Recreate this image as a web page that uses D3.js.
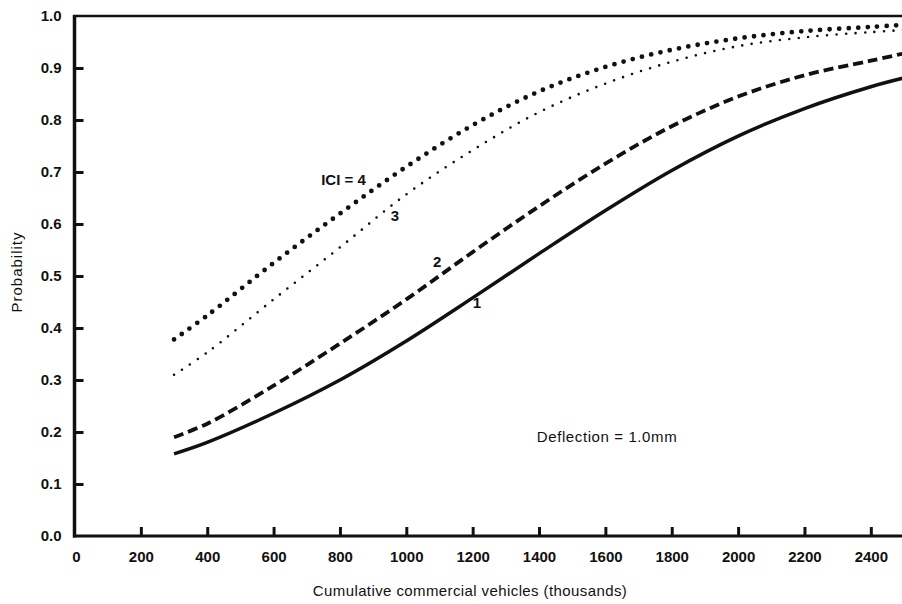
<!DOCTYPE html>
<html lang="en">
<head>
    <meta charset="UTF-8">
    <title>Probability vs cumulative commercial vehicles</title>
    <script src="https://d3js.org/d3.v7.min.js"></script>
    <style>
        body { margin: 0; background: #fff; font-family: "Liberation Sans", Arial, sans-serif; }
        .tick text { font-family: "Liberation Sans", Arial, sans-serif; font-weight: bold; font-size: 15px; fill: #111; }
        .lbl { font-family: "Liberation Sans", Arial, sans-serif; fill: #111; }
    </style>
</head>
<body>
    <svg width="902" height="604"></svg>
    <script>
        // values
        const vehicles = [300, 400, 600, 800, 1000, 1200, 1400, 1600, 1800, 2000, 2200, 2400, 2500];
        const ici1 = [0.158, 0.180, 0.236, 0.300, 0.375, 0.458, 0.543, 0.626, 0.703, 0.769, 0.822, 0.864, 0.881];
        const ici2 = [0.190, 0.216, 0.289, 0.370, 0.455, 0.546, 0.634, 0.716, 0.788, 0.845, 0.886, 0.914, 0.928];
        const ici3 = [0.310, 0.353, 0.455, 0.555, 0.657, 0.742, 0.815, 0.870, 0.912, 0.942, 0.959, 0.969, 0.973];
        const ici4 = [0.378, 0.424, 0.525, 0.620, 0.710, 0.790, 0.855, 0.902, 0.935, 0.957, 0.971, 0.979, 0.983];
        const xTicks = [200, 400, 600, 800, 1000, 1200, 1400, 1600, 1800, 2000, 2200, 2400];
        const yTicks = [0.1, 0.2, 0.3, 0.4, 0.5, 0.6, 0.7, 0.8, 0.9];

        const svg = d3.select("svg");

        const x = d3.scaleLinear().domain([0, 2500]).range([74.5, 904]);
        const y = d3.scaleLinear().domain([0, 1]).range([536, 16]);

        // y axis
        const gy = svg.append("g")
            .attr("transform", `translate(${x(0)},0)`)
            .call(d3.axisLeft(y).tickValues(yTicks).tickSizeInner(-9).tickSizeOuter(0).tickPadding(13)
                .tickFormat(d3.format(".1f")));
        gy.select(".domain").remove();
        gy.selectAll(".tick line").attr("stroke", "#111").attr("stroke-width", 3);
        // end labels 0.0 and 1.0 (no tick marks)
        [0, 1].forEach(v => {
            svg.append("text").attr("class", "lbl")
                .attr("x", x(0) - 13).attr("y", y(v)).attr("dy", "0.36em")
                .attr("text-anchor", "end").attr("font-weight", "bold").attr("font-size", 15)
                .text(d3.format(".1f")(v));
        });

        // x axis
        const gx = svg.append("g")
            .attr("transform", `translate(0,${y(0)})`)
            .call(d3.axisBottom(x).tickValues(xTicks).tickSizeInner(-9).tickSizeOuter(0).tickPadding(15)
                .tickFormat(d3.format("d")));
        gx.select(".domain").remove();
        gx.selectAll(".tick line").attr("stroke", "#111").attr("stroke-width", 3);
        svg.append("text").attr("class", "lbl")
            .attr("x", x(0) + 2).attr("y", y(0) + 15).attr("dy", "0.71em")
            .attr("text-anchor", "middle").attr("font-weight", "bold").attr("font-size", 15)
            .text("0");

        // frame lines
        svg.append("line").attr("x1", x(0)).attr("x2", x(0)).attr("y1", y(1) - 1).attr("y2", y(0) + 1.5)
            .attr("stroke", "#111").attr("stroke-width", 3.5);
        svg.append("line").attr("x1", x(0) - 1.5).attr("x2", x(2500)).attr("y1", y(0)).attr("y2", y(0))
            .attr("stroke", "#111").attr("stroke-width", 3);
        svg.append("line").attr("x1", x(0) - 1.5).attr("x2", x(2500)).attr("y1", y(1)).attr("y2", y(1))
            .attr("stroke", "#111").attr("stroke-width", 2.5);

        // curves
        const line = d3.line().curve(d3.curveCatmullRom.alpha(0.5))
            .x(d => x(d[0])).y(d => y(d[1]));
        const series = [
            { vals: ici1, width: 3.5, dash: null, cap: "butt" },
            { vals: ici2, width: 3.8, dash: "10 5", cap: "butt" },
            { vals: ici3, width: 2.6, dash: "0 9.5", cap: "round" },
            { vals: ici4, width: 4.8, dash: "0 9.5", cap: "round" }
        ];
        series.forEach(s => {
            svg.append("path")
                .datum(vehicles.map((v, i) => [v, s.vals[i]]))
                .attr("d", line)
                .attr("fill", "none")
                .attr("stroke", "#111")
                .attr("stroke-width", s.width)
                .attr("stroke-linecap", s.cap)
                .attr("stroke-dasharray", s.dash);
        });

        // curve labels and note
        const notes = [
            { t: "ICI = 4", vx: 878, vy: 0.685, anchor: "end" },
            { t: "3", vx: 966, vy: 0.617, anchor: "middle" },
            { t: "2", vx: 1093, vy: 0.527, anchor: "middle" },
            { t: "1", vx: 1213, vy: 0.448, anchor: "middle" }
        ];
        notes.forEach(n => {
            svg.append("text").attr("class", "lbl")
                .attr("x", x(n.vx)).attr("y", y(n.vy)).attr("dy", "0.36em")
                .attr("text-anchor", n.anchor).attr("font-size", 15).attr("font-weight", "bold")
                .text(n.t);
        });
        svg.append("text").attr("class", "lbl")
            .attr("x", x(1605)).attr("y", y(0.192)).attr("dy", "0.36em")
            .attr("text-anchor", "middle").attr("font-size", 15).attr("letter-spacing", 0.6)
            .text("Deflection = 1.0mm");

        // axis titles
        svg.append("text").attr("class", "lbl")
            .attr("x", 470).attr("y", 591).attr("dy", "0.36em")
            .attr("text-anchor", "middle").attr("font-size", 15).attr("letter-spacing", 0.4)
            .text("Cumulative commercial vehicles (thousands)");
        svg.append("text").attr("class", "lbl")
            .attr("transform", "translate(17,272) rotate(-90)").attr("dy", "0.36em")
            .attr("text-anchor", "middle").attr("font-size", 15).attr("letter-spacing", 1)
            .text("Probability");
    </script>
</body>
</html>
